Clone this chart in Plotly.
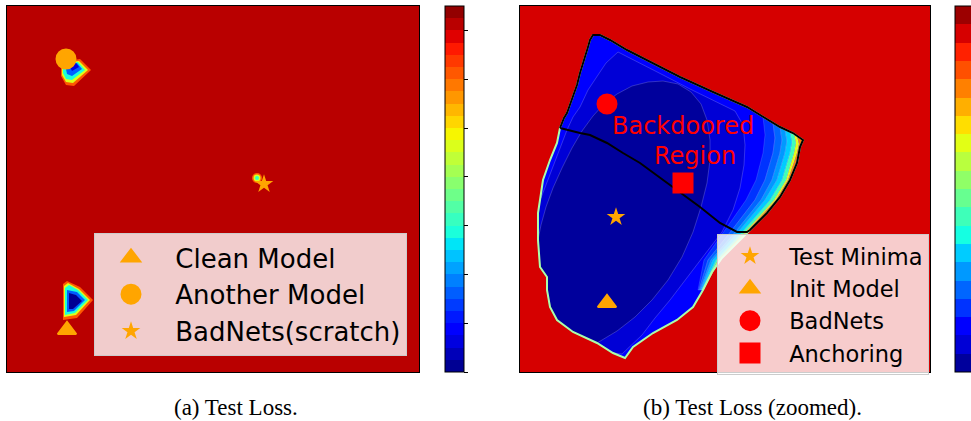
import plotly.graph_objects as go

W, H = 971, 421

# ---------------- data (units = image pixels) ----------------
# panel (a): markers
a_names = ["Clean Model", "Another Model", "BadNets(scratch)"]
a_x = [67, 66, 264]
a_y = [330, 59, 184]
a_symbols = ["triangle-up", "circle", "star"]

# panel (a): small low-loss pockets (outer -> inner contour polygons)
a_p1_x = [[61, 67, 80, 91, 74, 66, 61], [62, 68, 79, 88, 73, 66, 62], [63, 69, 78, 85, 72, 66, 63],
          [65, 70, 77, 82, 72, 67], [68, 76, 79, 72]]
a_p1_y = [[66, 61, 59, 70, 86, 85, 76], [66, 62, 61, 70, 83, 82, 75], [65, 63, 62, 70, 80, 79, 73],
          [64, 63, 63, 69, 76, 74], [63, 63, 67, 71]]
a_p1_levels = [24, 18, 11, 6, 2]
a_p2_x = [[63, 67, 80, 93, 77, 63], [64, 68, 79, 90, 76, 64], [65, 69, 78, 88, 75, 65],
          [67, 77, 85, 74, 67], [69, 76, 82, 73, 69]]
a_p2_y = [[284, 281, 287, 300, 318, 320], [286, 283, 289, 300, 315, 317], [288, 285, 290, 300, 313, 315],
          [290, 292, 300, 311, 312], [293, 295, 301, 309, 309]]
a_p2_levels = [24, 18, 11, 6, 0]
a_blob_x, a_blob_y = [257], [178]
a_blob_levels = [24, 18, 12]
a_blob_sizes = [10, 7, 4]

# panel (b): markers
b_names = ["Test Minima", "Init Model", "BadNets", "Anchoring"]
b_x = [616, 607, 607, 683]
b_y = [217, 303, 104, 183]
b_symbols = ["star", "triangle-up", "circle", "square"]
b_colors = ["orange", "orange", "red", "red"]

# panel (b): boundary of the low-loss basin, as segments
seg_left_upper = [(540, 200), (543, 180), (550, 160), (557, 143), (560, 128)]
seg_black_top = [(560, 128), (564, 118), (567, 113), (570, 104), (573, 97), (577, 85), (580, 73), (583, 64),
                 (585, 57), (588, 47), (590, 40), (593, 35), (600, 35), (610, 40), (627, 50), (647, 60),
                 (673, 73), (680, 77), (713, 92), (747, 107), (780, 127), (793, 133), (803, 140)]
seg_right = [(803, 140), (800, 147), (797, 163), (790, 180), (780, 197), (767, 213), (750, 230)]
seg_lower_right = [(750, 230), (735, 245), (722, 258), (712, 272), (703, 290), (693, 307), (677, 320),
                   (653, 333), (633, 347), (625, 358)]
seg_lower_left = [(625, 358), (613, 353), (597, 343), (573, 332), (557, 320), (550, 307), (547, 290),
                  (547, 277), (540, 267), (538, 240), (538, 213), (540, 200)]
# backdoor divider (black contour)
divider = [(560, 128), (580, 133), (590, 135), (607, 143), (623, 153), (640, 163), (663, 180), (673, 187),
           (700, 207), (720, 223), (730, 228), (737, 232), (747, 232)]
# inner contour arcs
l1_arc = [(541, 198), (550, 175), (558, 155), (567, 130), (573, 117), (580, 107), (588, 90), (597, 77),
          (606, 63), (618, 52), (640, 63), (665, 76), (690, 89), (715, 101), (735, 111), (743, 125),
          (745, 145), (744, 165), (740, 188), (733, 210), (722, 232), (702, 258), (685, 280), (670, 300),
          (655, 318), (642, 335), (622, 354)]
navy_arc = [(538, 240), (541, 225), (546, 207), (553, 188), (562, 168), (572, 148), (582, 131), (593, 116),
            (604, 104), (617, 94), (632, 86), (648, 82), (663, 81), (678, 84), (691, 92), (701, 104),
            (707, 120), (710, 140), (710, 160), (707, 183), (701, 207), (693, 232), (682, 257), (668, 280),
            (652, 300), (635, 317), (617, 331), (597, 343)]
# right-edge contour arcs (top -> bottom) and the level index of each band between them
edge_arcs = [
    [(763, 117), (765, 135), (763, 153), (756, 180), (746, 200), (725, 230), (704, 260), (698, 290)],
    [(773, 123), (775, 138), (773, 153), (765, 180), (755, 200), (732, 230), (708, 260), (699, 290)],
    [(780, 127), (782, 140), (780, 153), (772, 180), (761, 200), (737, 230), (711, 260), (700, 290)],
    [(785, 129), (787, 141), (785, 153), (777, 180), (765, 200), (740, 230), (713, 260), (701, 290)],
    [(790, 132), (792, 142), (790, 153), (782, 180), (770, 200), (744, 230), (716, 260), (702, 290)],
    [(794, 134), (796, 143), (794, 153), (786, 180), (774, 200), (747, 230), (718, 260), (702.5, 290)],
    [(797, 136), (799, 144), (797, 153), (788, 180), (776, 200), (748.5, 230), (719, 260), (703, 290)],
    [(803, 140), (800, 147), (799, 153), (790, 180), (778, 200), (750, 230), (720, 260), (703, 290)],
]
edge_levels = [3, 4, 5, 6, 8, 12, 15]

# ---------------- styling helpers ----------------
def jet(v):
    def interp(pts, t):
        for (x0, y0), (x1, y1) in zip(pts[:-1], pts[1:]):
            if t <= x1:
                return y0 + (y1 - y0) * (t - x0) / (x1 - x0)
        return pts[-1][1]
    r = interp([(0, 0), (0.35, 0), (0.66, 1), (0.89, 1), (1, 0.5)], v)
    g = interp([(0, 0), (0.125, 0), (0.375, 1), (0.64, 1), (0.91, 0), (1, 0)], v)
    b = interp([(0, 0.5), (0.11, 1), (0.34, 1), (0.65, 0), (1, 0)], v)
    return f"rgb({round(r * 255)},{round(g * 255)},{round(b * 255)})"


def band(i, n):
    return jet((i + 0.5) / n)


def discrete_scale(n):
    cs = []
    for i in range(n):
        c = band(i, n)
        cs += [[i / n, c], [(i + 1) / n, c]]
    return cs


def xy(pts):
    return [p[0] for p in pts], [p[1] for p in pts]


def poly(xs, ys, fill, xa, ya, lc=None, lw=0):
    return go.Scatter(x=xs, y=ys, mode="lines", fill="toself", fillcolor=fill,
                      line=dict(color=lc or fill, width=lw), xaxis=xa, yaxis=ya,
                      showlegend=False, hoverinfo="skip")


def fx(px):
    return px / W


def fy(py):
    return 1 - py / H


NB = "\u00a0"
fig = go.Figure()
N_A, N_B = 30, 20
FAINT = "rgba(255,255,255,0.28)"

# ---------------- panel (a) ----------------
for xs, ys, lv in zip(a_p1_x, a_p1_y, a_p1_levels):
    fig.add_trace(poly(xs, ys, band(lv, N_A), "x", "y"))
for xs, ys, lv in zip(a_p2_x, a_p2_y, a_p2_levels):
    fig.add_trace(poly(xs, ys, band(lv, N_A), "x", "y"))
for lv, sz in zip(a_blob_levels, a_blob_sizes):
    fig.add_trace(go.Scatter(x=a_blob_x, y=a_blob_y, mode="markers", xaxis="x", yaxis="y",
                             marker=dict(size=sz, color=band(lv, N_A), line=dict(width=0)),
                             showlegend=False, hoverinfo="skip"))
a_sizes = {"triangle-up": (16, 2), "circle": (16, 5), "star": (14, 0)}
for name, x, y, sym in zip(a_names, a_x, a_y, a_symbols):
    s, lw = a_sizes[sym]
    fig.add_trace(go.Scatter(x=[x], y=[y], mode="markers", name=NB + name, xaxis="x", yaxis="y",
                             marker=dict(symbol=sym, size=s, color="orange",
                                         line=dict(color="orange", width=lw)),
                             legend="legend", showlegend=True, hoverinfo="skip"))
# colorbar (a)
fig.add_trace(go.Scatter(x=[None], y=[None], mode="markers", xaxis="x", yaxis="y", showlegend=False,
                         marker=dict(color=[0.5], cmin=0, cmax=1, colorscale=discrete_scale(N_A),
                                     showscale=True,
                                     colorbar=dict(x=fx(445), xanchor="left", y=fy(372), yanchor="bottom",
                                                   len=366 / H, lenmode="fraction", thickness=19,
                                                   outlinewidth=1, outlinecolor="black", xpad=0, ypad=0,
                                                   ticks="outside", ticklen=4, tickwidth=1, tickcolor="black",
                                                   tickvals=[i * 4 / N_A for i in range(8)],
                                                   showticklabels=False))))

# ---------------- panel (b) ----------------
B = seg_left_upper + seg_black_top[1:] + seg_right[1:] + seg_lower_right[1:] + seg_lower_left[1:]
bx, by = xy(B)
fig.add_trace(poly(bx, by, band(2, N_B), "x2", "y2"))
lx, ly = xy(l1_arc + seg_lower_left[1:])
fig.add_trace(poly(lx, ly, band(1, N_B), "x2", "y2", FAINT, 0.7))
nx, ny = xy(navy_arc + seg_lower_left[2:10])
fig.add_trace(poly(nx, ny, band(0, N_B), "x2", "y2", FAINT, 0.7))
for k, lv in enumerate(edge_levels):
    pts = edge_arcs[k] + edge_arcs[k + 1][::-1]
    ex, ey = xy(pts)
    fig.add_trace(poly(ex, ey, band(lv, N_B), "x2", "y2", FAINT, 0.5))
# thin colour fringe along the basin edge
fig.add_trace(go.Scatter(x=bx + [bx[0]], y=by + [by[0]], mode="lines", xaxis="x2", yaxis="y2",
                         line=dict(color="rgb(170,255,170)", width=2), showlegend=False, hoverinfo="skip"))
# black contour
blk = seg_black_top + seg_right[1:] + [divider[-1]] + divider[::-1][1:]
kx, ky = xy(blk)
fig.add_trace(go.Scatter(x=kx, y=ky, mode="lines", xaxis="x2", yaxis="y2",
                         line=dict(color="black", width=2), showlegend=False, hoverinfo="skip"))
b_sizes = {"triangle-up": (16, 2), "circle": (16, 5), "star": (14, 0), "square": (16, 5)}
for name, x, y, sym, col in zip(b_names, b_x, b_y, b_symbols, b_colors):
    s, lw = b_sizes[sym]
    fig.add_trace(go.Scatter(x=[x], y=[y], mode="markers", name=NB + name, xaxis="x2", yaxis="y2",
                             marker=dict(symbol=sym, size=s, color=col, line=dict(color=col, width=lw)),
                             legend="legend2", showlegend=True, hoverinfo="skip"))
fig.add_trace(go.Scatter(x=[None], y=[None], mode="markers", xaxis="x2", yaxis="y2", showlegend=False,
                         marker=dict(color=[0.5], cmin=0, cmax=1, colorscale=discrete_scale(N_B),
                                     showscale=True,
                                     colorbar=dict(x=fx(955), xanchor="left", y=fy(372), yanchor="bottom",
                                                   len=366 / H, lenmode="fraction", thickness=19,
                                                   outlinewidth=1, outlinecolor="black", xpad=0, ypad=0,
                                                   ticks="outside", ticklen=4, tickwidth=1, tickcolor="black",
                                                   showticklabels=False))))

# ---------------- layout ----------------
ydom = [fy(372), fy(6)]
axis_common = dict(showgrid=False, zeroline=False, showticklabels=False, ticks="",
                   showline=True, mirror=True, linecolor="black", linewidth=1)
fig.update_layout(
    width=W, height=H,
    margin=dict(l=0, r=0, t=0, b=0, autoexpand=False),
    paper_bgcolor="white", plot_bgcolor="white",
    xaxis=dict(domain=[fx(7), fx(419)], range=[7, 419], **axis_common),
    yaxis=dict(domain=ydom, range=[372, 6], **axis_common),
    xaxis2=dict(domain=[fx(520), fx(930)], range=[520, 930], **axis_common),
    yaxis2=dict(domain=ydom, range=[372, 6], anchor="x2", **axis_common),
    legend=dict(x=fx(94), y=fy(233), xanchor="left", yanchor="top",
                bgcolor="rgba(255,255,255,0.8)", bordercolor="rgb(204,204,204)", borderwidth=1,
                font=dict(family="DejaVu Sans", size=26, color="black"), itemwidth=62),
    legend2=dict(x=fx(717), y=fy(234), xanchor="left", yanchor="top",
                 bgcolor="rgba(255,255,255,0.8)", bordercolor="rgb(204,204,204)", borderwidth=1,
                 font=dict(family="DejaVu Sans", size=22.5, color="black"), itemwidth=54),
    shapes=[
        dict(type="rect", xref="x domain", yref="y domain", x0=0, x1=1, y0=0, y1=1,
             fillcolor=band(28, N_A), line=dict(width=0), layer="below"),
        dict(type="rect", xref="x2 domain", yref="y2 domain", x0=0, x1=1, y0=0, y1=1,
             fillcolor=band(18, N_B), line=dict(width=0), layer="below"),
    ],
    annotations=[
        dict(text="Backdoored", x=683, y=126, xref="x2", yref="y2", showarrow=False,
             xanchor="center", yanchor="middle",
             font=dict(family="DejaVu Sans", size=24, color="rgb(255,0,0)")),
        dict(text="Region", x=695, y=155.5, xref="x2", yref="y2", showarrow=False,
             xanchor="center", yanchor="middle",
             font=dict(family="DejaVu Sans", size=24, color="rgb(255,0,0)")),
        dict(text="(a) Test Loss.", x=fx(236), y=fy(407), xref="paper", yref="paper",
             xanchor="center", yanchor="middle", showarrow=False,
             font=dict(family="Liberation Serif", size=23, color="black")),
        dict(text="(b) Test Loss (zoomed).", x=fx(752), y=fy(407), xref="paper", yref="paper",
             xanchor="center", yanchor="middle", showarrow=False,
             font=dict(family="Liberation Serif", size=23, color="black")),
    ],
)

fig.write_html("out.html", config={"displayModeBar": False},
               post_script="document.body.style.margin='0px';")
